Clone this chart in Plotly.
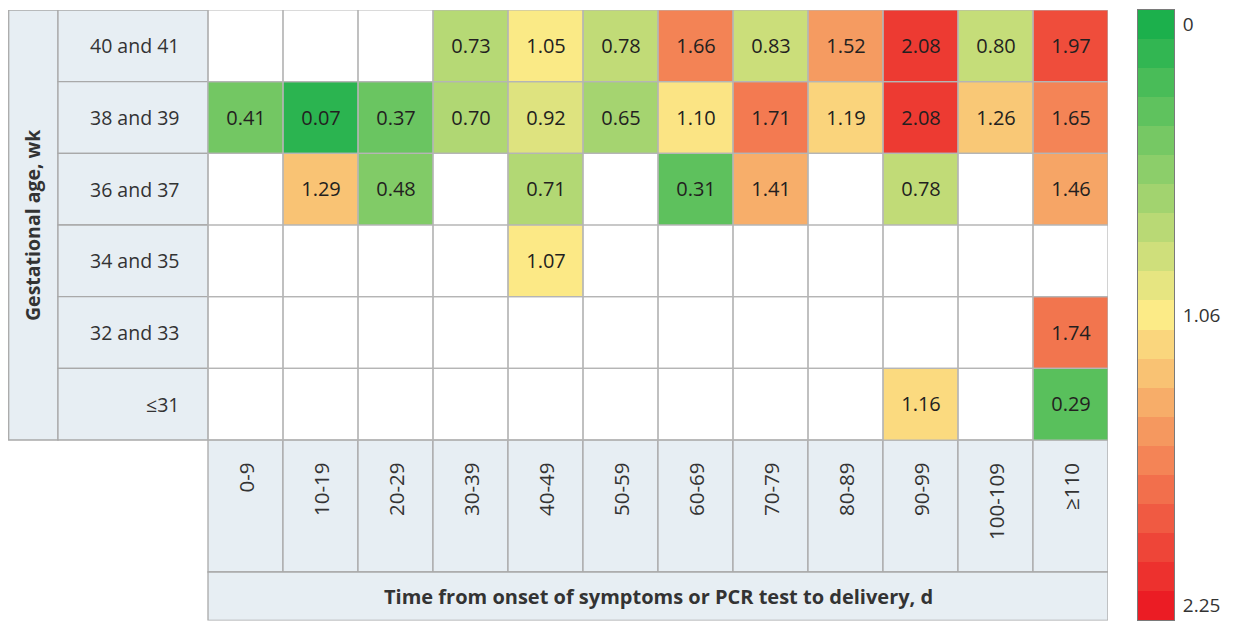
import numpy as np
import plotly.graph_objects as go

# ---------------- data ----------------
row_labels = ["40 and 41", "38 and 39", "36 and 37", "34 and 35", "32 and 33", "≤31"]
col_labels = ["0-9", "10-19", "20-29", "30-39", "40-49", "50-59",
              "60-69", "70-79", "80-89", "90-99", "100-109", "≥110"]

vals_40_41 = [None, None, None, 0.73, 1.05, 0.78, 1.66, 0.83, 1.52, 2.08, 0.80, 1.97]
vals_38_39 = [0.41, 0.07, 0.37, 0.70, 0.92, 0.65, 1.10, 1.71, 1.19, 2.08, 1.26, 1.65]
vals_36_37 = [None, 1.29, 0.48, None, 0.71, None, 0.31, 1.41, None, 0.78, None, 1.46]
vals_34_35 = [None, None, None, None, 1.07, None, None, None, None, None, None, None]
vals_32_33 = [None, None, None, None, None, None, None, None, None, None, None, 1.74]
vals_le_31 = [None, None, None, None, None, None, None, None, None, 1.16, None, 0.29]

scale_min, scale_mid, scale_max = 0.0, 1.06, 2.25
legend_ticks = ["0", "1.06", "2.25"]

y_title = "Gestational age, wk"
x_title = "Time from onset of symptoms or PCR test to delivery, d"

# ---------------- build ----------------
Z = [vals_40_41, vals_38_39, vals_36_37, vals_34_35, vals_32_33, vals_le_31]
z = np.array([[np.nan if v is None else v for v in r] for r in Z], dtype=float)
txt = [["" if v is None else f"{v:.2f}" for v in r] for r in Z]
nrows, ncols = len(row_labels), len(col_labels)

W, H = 1237, 622
FONT = "Open Sans"
TXT = "#231f20"
HDR_FILL = "#e7eef3"
LINE = "#a9a9a9"

colorscale = [[0.0, "rgb(28,176,76)"],
              [(scale_mid - scale_min) / (scale_max - scale_min), "rgb(252,235,135)"],
              [1.0, "rgb(235,28,36)"]]

# layout geometry (pixels inside the figure; page has an 8px body margin)
OFF = 8
BOX_L, LBL_L = 8 - OFF, 58 - OFF
GRID_L, GRID_R, GRID_T, GRID_B = 208 - OFF, 1108 - OFF, 10 - OFF, 440 - OFF
HDR_B, TITLE_B = 572 - OFF, 620.5 - OFF
CB_L, CB_R, CB_T, CB_B = 1138 - OFF, 1174 - OFF, 10 - OFF, 620 - OFF
cw = (GRID_R - GRID_L) / ncols
rh = (GRID_B - GRID_T) / nrows


def xd(px):
    return (px - GRID_L) / cw - 0.5


def yd(px):
    return (px - GRID_T) / rh - 0.5


fig = go.Figure()
fig.add_trace(go.Heatmap(
    z=z, x=list(range(ncols)), y=list(range(nrows)),
    text=txt, texttemplate="%{text}",
    textfont=dict(family=FONT, size=20, color=TXT),
    colorscale=colorscale, zmin=scale_min, zmax=scale_max,
    showscale=False, hoverongaps=False,
    customdata=[[f"{r} | {c}" for c in col_labels] for r in row_labels],
    hovertemplate="%{customdata}<br>%{z:.2f}<extra></extra>",
))

# legend (stepped colour bar) built as its own small heatmap
n_half = 10
legend_vals = list(np.linspace(scale_min, scale_mid, n_half + 1)) + \
    list(np.linspace(scale_mid, scale_max, n_half + 1)[1:])
fig.add_trace(go.Heatmap(
    z=[[v] for v in legend_vals], x=[0], y=list(range(len(legend_vals))),
    colorscale=colorscale, zmin=scale_min, zmax=scale_max,
    showscale=False, xaxis="x2", yaxis="y2", hoverinfo="skip",
))

shapes = []
# title column box
shapes.append(dict(type="rect", xref="x", yref="y", x0=xd(BOX_L + 0.7), x1=xd(LBL_L),
                   y0=-0.5, y1=nrows - 0.5, fillcolor=HDR_FILL,
                   line=dict(color=LINE, width=1.3), layer="below"))
# row label boxes
for r in range(nrows):
    shapes.append(dict(type="rect", xref="x", yref="y", x0=xd(LBL_L), x1=-0.5,
                       y0=r - 0.5, y1=r + 0.5, fillcolor=HDR_FILL,
                       line=dict(color=LINE, width=1.3), layer="below"))
# column header boxes
for c in range(ncols):
    shapes.append(dict(type="rect", xref="x", yref="y", x0=c - 0.5, x1=c + 0.5,
                       y0=nrows - 0.5, y1=yd(HDR_B), fillcolor=HDR_FILL,
                       line=dict(color=LINE, width=1.3), layer="below"))
# x title box
shapes.append(dict(type="rect", xref="x", yref="y", x0=-0.5, x1=ncols - 0.5,
                   y0=yd(HDR_B), y1=yd(TITLE_B), fillcolor=HDR_FILL,
                   line=dict(color=LINE, width=1.3), layer="below"))
# grid lines of data cells
for r in range(nrows):
    for c in range(ncols):
        shapes.append(dict(type="rect", xref="x", yref="y", x0=c - 0.5, x1=c + 0.5,
                           y0=r - 0.5, y1=r + 0.5, fillcolor="rgba(0,0,0,0)",
                           line=dict(color="#b5b5b5", width=1.2), layer="above"))

annotations = []
for r, lab in enumerate(row_labels):
    annotations.append(dict(x=xd(181 - OFF), y=r, xref="x", yref="y", text=lab,
                            showarrow=False, xanchor="right", yanchor="middle",
                            font=dict(family=FONT, size=19.5, color="#333333")))
for c, lab in enumerate(col_labels):
    annotations.append(dict(x=c, y=yd(461 - OFF), xref="x", yref="y", text=lab,
                            showarrow=False, xanchor="center", yanchor="top",
                            textangle=-90,
                            font=dict(family=FONT, size=20.5, color="#333333")))
annotations.append(dict(x=xd((BOX_L + LBL_L) / 2), y=(nrows - 1) / 2, xref="x", yref="y",
                        text=f"<b>{y_title}</b>", showarrow=False, textangle=-90,
                        xanchor="center", yanchor="middle",
                        font=dict(family=FONT, size=19.5, color="#333333")))
annotations.append(dict(x=(ncols - 1) / 2, y=yd((HDR_B + TITLE_B) / 2), xref="x", yref="y",
                        text=f"<b>{x_title}</b>", showarrow=False,
                        xanchor="center", yanchor="middle",
                        font=dict(family=FONT, size=20, color="#333333")))

fig.update_layout(
    width=W, height=H, margin=dict(l=0, r=0, t=0, b=0),
    paper_bgcolor="white", plot_bgcolor="rgba(0,0,0,0)",
    shapes=shapes, annotations=annotations, showlegend=False,
    xaxis=dict(domain=[BOX_L / W, GRID_R / W], range=[xd(BOX_L), ncols - 0.5],
               visible=False, fixedrange=True),
    yaxis=dict(domain=[(H - TITLE_B) / H, (H - GRID_T) / H],
               range=[yd(TITLE_B), -0.5], visible=False, fixedrange=True),
    xaxis2=dict(domain=[CB_L / W, CB_R / W], anchor="y2", range=[-0.5, 0.5],
                showticklabels=False, ticks="", showgrid=False, zeroline=False,
                showline=True, mirror=True, linecolor="#7a7a7a", linewidth=1,
                fixedrange=True),
    yaxis2=dict(domain=[(H - CB_B) / H, (H - CB_T) / H], anchor="x2", side="right",
                range=[len(legend_vals) - 0.5, -0.5],
                tickvals=[0, n_half, 2 * n_half], ticktext=legend_ticks,
                ticks="", showgrid=False, zeroline=False,
                showline=True, mirror=True, linecolor="#7a7a7a", linewidth=1,
                tickfont=dict(family=FONT, size=19, color="#333333"),
                ticklabelstandoff=4, fixedrange=True),
)

fig.write_html("out.html")
